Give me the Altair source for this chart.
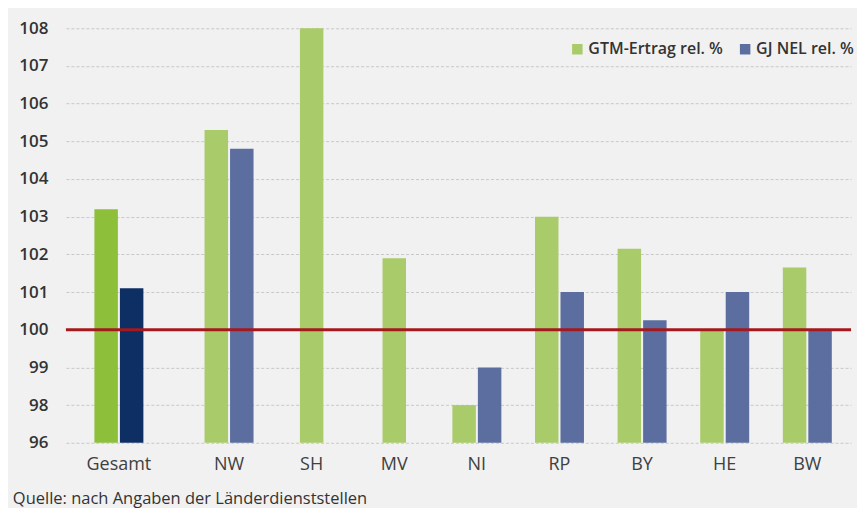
import altair as alt
import pandas as pd

categories = ["Gesamt", "NW", "SH", "MV", "NI", "RP", "BY", "HE", "BW"]
gtm_values = [103.2, 105.3, 108.0, 101.9, 98.0, 103.0, 102.15, 100.0, 101.65]
gj_values = [101.1, 104.8, None, None, 99.0, 101.0, 100.25, 101.0, 100.0]
series = ["GTM-Ertrag rel. %", "GJ NEL rel. %"]
tick_values = [97, 98, 99, 100, 101, 102, 103, 104, 105, 106, 107, 108]
tick_labels = ["96", "98", "99", "100", "101", "102", "103", "104", "105", "106", "107", "108"]
reference_value = [100]
baseline = 97
source_text = "Quelle: nach Angaben der Länderdienststellen"

FONT = "Open Sans"
TOTAL_SUFFIX = " (Gesamt)"

rows = []
for i, (cat, a, b) in enumerate(zip(categories, gtm_values, gj_values)):
    pair = [(series[0], a), (series[1], b)]
    present = [(s, v) for s, v in pair if v is not None]
    for s, v in present:
        if len(present) == 1:
            slot = "mid"
        else:
            slot = "left" if s == series[0] else "right"
        colour_key = s + TOTAL_SUFFIX if i == 0 else s
        rows.append({"Kategorie": cat, "Serie": s, "Farbe": colour_key, "Wert": v, "Slot": slot})
df = pd.DataFrame(rows)
ref_df = pd.DataFrame({"ref": reference_value})

# x layout: the overall total stands a little apart from the states
x_domain = ["_start"]
for i, c in enumerate(categories):
    x_domain.append(c)
    if i == 0:
        x_domain += ["_gap%d" % k for k in range(3)]
    elif i < len(categories) - 1:
        x_domain += ["_sp%d_%d" % (i, k) for k in range(2)]
x_domain.append("_end")

label_expr = "[" + ",".join("'%s'" % t for t in tick_labels) + "][indexof([" + \
    ",".join(str(v) for v in tick_values) + "], datum.value)]"

y_scale = alt.Scale(domain=[tick_values[0], tick_values[-1]], nice=False, zero=False)
y_axis = alt.Axis(labelExpr=label_expr, labelFont=FONT, labelFontSize=17,
                  labelFontWeight=600, labelColor="#333333", labelPadding=18,
                  grid=True, gridColor="#c8c8c8", gridDash=[3, 2], gridWidth=1,
                  values=tick_values, domain=False, ticks=False, title=None)
x_axis = alt.Axis(title=None, domain=False, ticks=False, labelAngle=0, labelFont=FONT,
                  labelFontSize=18, labelColor="#404040", labelPadding=13,
                  values=categories)

colour_domain = series + [s + TOTAL_SUFFIX for s in series]
colour_range = ["#a9cb69", "#5b6e9f", "#8dbf3b", "#0d2f63"]

BAR_W = 23.5
RED = "#a3191e"

bars = alt.Chart(df).mark_bar(width=BAR_W).encode(
    x=alt.X("Kategorie:N", axis=x_axis,
            scale=alt.Scale(domain=x_domain, paddingInner=0, paddingOuter=0.255,
                            align=0.83, round=False)),
    xOffset=alt.XOffset("Slot:N", scale=alt.Scale(domain=["left", "mid", "right"],
                                                  paddingInner=0.84, paddingOuter=0,
                                                  round=False)),
    y=alt.Y("Wert:Q", scale=y_scale, axis=y_axis),
    y2=alt.datum(baseline),
    color=alt.Color("Farbe:N", scale=alt.Scale(domain=colour_domain, range=colour_range),
                    legend=alt.Legend(title=None, values=series, orient="none",
                                      legendX=504, legendY=13, direction="horizontal",
                                      symbolType="square", symbolSize=110, symbolStrokeWidth=0,
                                      labelFont=FONT, labelFontSize=16, labelFontWeight=600,
                                      labelColor="#333333", columnPadding=14, labelOffset=3,
                                      padding=0)),
)
rule = alt.Chart(ref_df).mark_rule(color=RED, strokeWidth=3).encode(
    y=alt.Y("ref:Q", scale=y_scale, axis=y_axis))

chart = alt.layer(bars, rule).properties(
    width=786, height=415,
    background="#f1f1f1",
    padding={"left": 4, "top": 11, "right": 3, "bottom": 0},
    title=alt.TitleParams(source_text, orient="bottom", anchor="start", font=FONT,
                          fontSize=16.5, fontWeight="normal", color="#333333", offset=17, dx=-6),
).configure_view(strokeWidth=0)

chart.save("out.html", embed_options={"renderer": "svg", "actions": False})
